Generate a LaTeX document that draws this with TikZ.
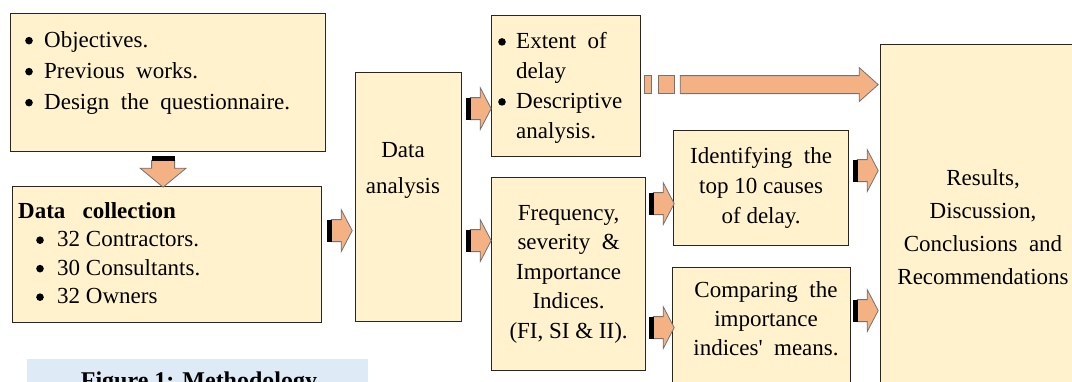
\documentclass[tikz,border=0pt]{standalone}
\usepackage{fontspec}
\setmainfont{Liberation Serif}
\usetikzlibrary{positioning,calc}
\definecolor{cbox}{RGB}{255,242,204}
\definecolor{carr}{RGB}{244,177,131}
\definecolor{ccap}{RGB}{222,234,246}
\newcommand{\bigbul}{\tikz[baseline={([yshift=-6.5pt]current bounding box.center)}]
  \fill (0pt,0pt) circle (3.8pt);}

\begin{document}
\begin{tikzpicture}[
  x=1pt, y=-1pt,
  font=\fontsize{23}{30}\selectfont,
  box/.style={rectangle, draw=black!85, line width=1.2pt, fill=cbox,
              anchor=north west, inner sep=0pt},
  txt/.style={inner sep=0pt, align=left, anchor=north west},
  ctxt/.style={inner sep=0pt, align=center, anchor=north},
  arrline/.style={draw=black!55, line width=0.8pt, fill=carr},
  rarr/.pic={
    \path[arrline] (4,-11) -- (14,-11) -- (14,-21) -- (25,0) -- (14,21)
                   -- (14,11) -- (4,11) -- cycle;
    \fill[black] (0,-11) rectangle (5,11);
  },
  darr/.pic={
    \path[arrline] (-11.5,4) -- (-11.5,12) -- (-23,12) -- (0,31) -- (23,12)
                   -- (11.5,12) -- (11.5,4) -- cycle;
    \fill[black] (-11.5,0) rectangle (11.5,5);
  }
]
\useasboundingbox (0,0) rectangle (1072,381);
\clip (0,0) rectangle (1072,381);

% ---------- boxes ----------
\node[box, minimum width=315pt, minimum height=138pt] (obj)   at (10,13)  {};
\node[box, minimum width=309pt, minimum height=136pt] (dc)    at (12,186) {};
\node[box, minimum width=106pt, minimum height=249pt] (da)    at (355,72) {};
\node[box, minimum width=149pt, minimum height=141pt] (ext)   at (491,15) {};
\node[box, minimum width=154pt, minimum height=193pt, align=center,
      font=\fontsize{23}{29.5}\selectfont] (freq) at (491,177)
  {Frequency,\\ severity\ \ \&\\ Importance\\ Indices.\\ (FI, SI \& II).};
\node[box, minimum width=175pt, minimum height=115pt, align=center] (ident)
  at (673,130) {Identifying\ \ the\\ top 10 causes\\ of delay.};
\node[box, minimum width=178pt, minimum height=130pt] (comp)  at (672,267) {};
\node[box, minimum width=206pt, minimum height=345pt] (res)   at (880,44) {};

% ---------- box texts ----------
\node[txt, font=\fontsize{23}{31}\selectfont] (objtxt) at ($(obj.north west)+(15,18)$)
  {\makebox[19pt][l]{\bigbul}Objectives.\\
   \makebox[19pt][l]{\bigbul}Previous\ \ works.\\
   \makebox[19pt][l]{\bigbul}Design\ \ the\ \ questionnaire.};
\node[txt, font=\fontsize{23}{28.5}\selectfont] (dctxt) at ($(dc.north west)+(6,16)$)
  {\textbf{Data\ \ \ collection}\\
   \hspace*{18pt}\makebox[21pt][l]{\bigbul}32 Contractors.\\
   \hspace*{18pt}\makebox[21pt][l]{\bigbul}30 Consultants.\\
   \hspace*{18pt}\makebox[21pt][l]{\bigbul}32 Owners};
\node[ctxt, font=\fontsize{23}{36}\selectfont] (datxt) at (403,142) {Data\\ analysis};
\node[txt, font=\fontsize{23}{30}\selectfont] (exttxt) at ($(ext.north west)+(7,17)$)
  {\makebox[18pt][l]{\bigbul}Extent\ \ of\\
   \hspace*{18pt}delay\\
   \makebox[18pt][l]{\bigbul}Descriptive\\
   \hspace*{18pt}analysis.};
\node[ctxt, font=\fontsize{23}{29}\selectfont] (comptxt) at (766,281)
  {Comparing\ \ the\\ importance\\ indices\textquotesingle\ \ means.};
\node[ctxt, font=\fontsize{23}{33}\selectfont] (restxt) at (983,169)
  {Results,\\ Discussion,\\ Conclusions\ \ and\\ Recommendations};

% ---------- block arrows ----------
\pic at ($(obj.south)+(-5,4)$) {darr};
\foreach \n/\dx/\dy in {dc/5/-24, da/4/-88.5, da/4/43.5, freq/3/-70.5,
                        freq/3/53.5, ident/4/-17.5, comp/2/-22}
  \pic at ($(\n.east)+(\dx,\dy)$) {rarr};

% broken arrow: extent of delay -> results
\coordinate (dstart) at ($(ext.east)+(3,-1.5)$);
\begin{scope}[shift={(dstart)}]
  \path[arrline] (0,-9) rectangle (7,9);
  \path[arrline] (14,-9) rectangle (30,9);
  \path[arrline] (36,-9) -- (215,-9) -- (215,-17) -- (234,0) -- (215,17)
                 -- (215,9) -- (36,9) -- cycle;
\end{scope}

% ---------- caption ----------
\fill[ccap] (27,359) rectangle (368,400);
\node[ctxt, font=\bfseries\fontsize{24}{28}\selectfont] (cap) at (199,372)
  {Figure 1: Methodology};

\end{tikzpicture}
\end{document}
